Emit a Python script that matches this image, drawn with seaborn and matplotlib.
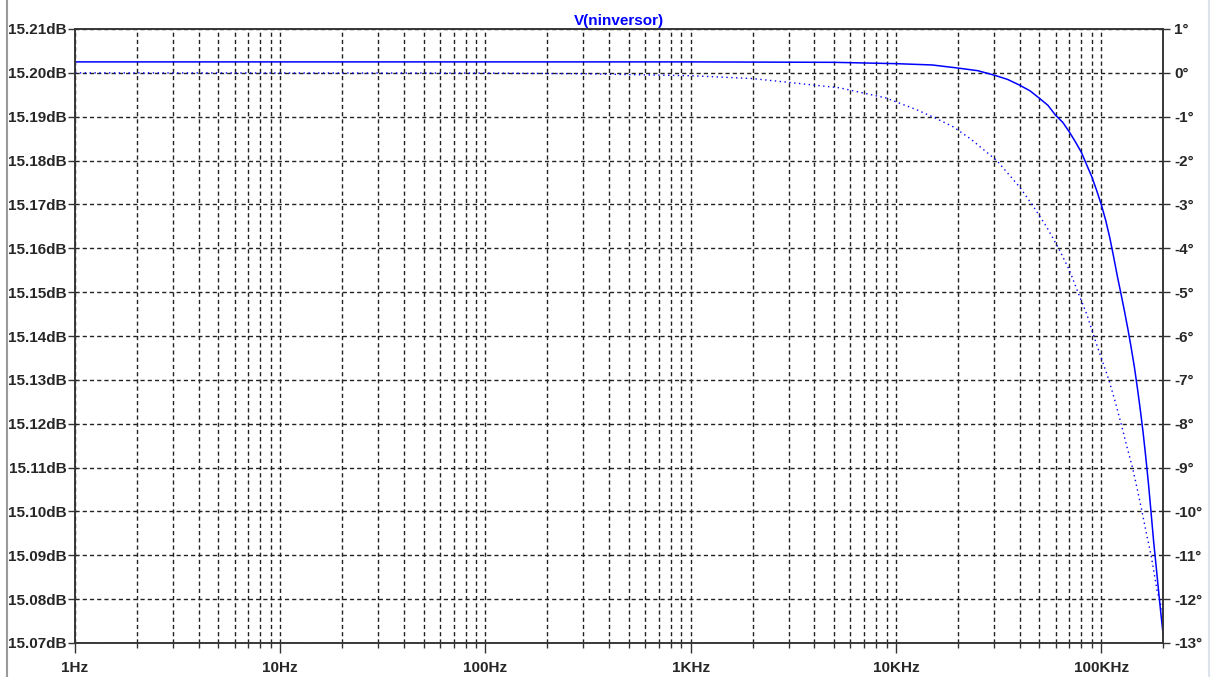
import matplotlib
matplotlib.use('Agg')
import numpy as np
import pandas as pd
import matplotlib.pyplot as plt
import seaborn as sns
from matplotlib.ticker import FixedLocator, LogLocator, NullFormatter
from matplotlib.lines import Line2D

# Магнитуда (сплошная линия), дБ
freq_mag = [1, 10, 100, 1000, 5000, 10000, 15000, 20000, 25000, 30000, 35000,
            40000, 45000, 50000, 55000, 60000, 65000, 70000, 75000, 80000, 85000,
            90000, 95000, 100000, 105000, 110000, 115000, 120000, 125000, 130000,
            135000, 140000, 145000, 150000, 155000, 160000, 165000, 170000,
            175000, 180000, 185000, 190000, 195000, 200000]
mag_db = [15.2025, 15.2025, 15.2025, 15.2025, 15.2024, 15.2021, 15.2018, 15.2011,
          15.2005, 15.1995, 15.1985, 15.1972, 15.1959, 15.1942, 15.1926, 15.1903,
          15.1887, 15.1865, 15.1842, 15.1819, 15.1790, 15.1763, 15.1732, 15.1700,
          15.1665, 15.1625, 15.1580, 15.1535, 15.1495, 15.1455, 15.1415, 15.1373,
          15.1330, 15.1282, 15.1232, 15.1180, 15.1122, 15.1062, 15.0997, 15.0932,
          15.0877, 15.0822, 15.0770, 15.0722]

# Фаза (пунктир), градусы
freq_ph = [1, 100, 300, 1000, 2000, 5300, 8900, 12600, 15700, 19000, 23000,
           31000, 40000, 46000, 54000, 62000, 70000, 77000, 85000, 92000, 100000,
           109000, 117000, 125000, 133000, 142000, 150000, 158000, 166000, 175000,
           181000, 187000, 193000, 200000]
phase_deg = [0.0, -0.005, -0.02, -0.065, -0.13, -0.34, -0.57, -0.84, -1.04, -1.23,
             -1.5, -2.0, -2.6, -3.0, -3.5, -4.0, -4.5, -5.0, -5.5, -6.0, -6.5,
             -7.0, -7.5, -8.0, -8.5, -9.0, -9.5, -10.0, -10.5, -11.0, -11.4,
             -11.8, -12.05, -12.3]

x_ticks = [1, 10, 100, 1000, 10000, 100000]
x_labels = ['1Hz', '10Hz', '100Hz', '1KHz', '10KHz', '100KHz']
db_ticks = [15.07, 15.08, 15.09, 15.10, 15.11, 15.12, 15.13, 15.14, 15.15,
            15.16, 15.17, 15.18, 15.19, 15.20, 15.21]
deg_ticks = list(range(-13, 2))

df_mag = pd.DataFrame({'f': freq_mag, 'v': mag_db})
df_ph = pd.DataFrame({'f': freq_ph, 'v': phase_deg})

sns.set_style('white')
plt.rcParams['font.family'] = ['Liberation Sans', 'DejaVu Sans']
plt.rcParams['font.weight'] = 'bold'

fig = plt.figure(figsize=(12.12, 6.77), dpi=100)
ax = fig.add_axes([75 / 1212, 1 - 643 / 677, (1163 - 75) / 1212, (643 - 29) / 677])
ax2 = ax.twinx()

blue = '#0000ff'
sns.lineplot(data=df_mag, x='f', y='v', ax=ax, color=blue, lw=1.1,
             estimator=None, sort=False)
sns.lineplot(data=df_ph, x='f', y='v', ax=ax2, color=blue, lw=1.0,
             linestyle=(0, (1, 2.5)), estimator=None, sort=False)

ax.set_xscale('log')
ax.set_xlim(1, 200000)
ax.set_ylim(15.07, 15.21)
ax2.set_ylim(-13, 1)

ax.xaxis.set_major_locator(FixedLocator(x_ticks))
ax.set_xticklabels(x_labels)
ax.xaxis.set_minor_locator(LogLocator(base=10, subs=np.arange(2, 10)))
ax.xaxis.set_minor_formatter(NullFormatter())

ax.set_yticks(db_ticks)
ax.set_yticklabels([f'{v:.2f}dB' for v in db_ticks])
ax2.set_yticks(deg_ticks)
ax2.set_yticklabels([f'{v}°' for v in deg_ticks])

for a in (ax, ax2):
    a.set_xlabel('')
    a.set_ylabel('')
    for s in a.spines.values():
        s.set_color('#333333')
        s.set_linewidth(1.1)

# сетка пунктиром
grid_kw = dict(color='#222222', linestyle=(0, (3, 2.2)), linewidth=1.0)
ax.grid(True, which='major', axis='y', **grid_kw)
ax.grid(True, which='both', axis='x', **grid_kw)
ax2.grid(False)

ax.tick_params(axis='x', which='major', direction='out', length=7, width=1,
               color='#333333', labelsize=11, pad=6, bottom=True)
ax.tick_params(axis='x', which='minor', direction='out', length=3.5, width=1,
               color='#333333', bottom=True)
ax.tick_params(axis='y', direction='out', length=5, width=1, color='#333333',
               labelsize=11, pad=1, left=True)
ax2.tick_params(axis='y', direction='out', length=5, width=1, color='#333333',
                labelsize=11, pad=3, right=True)

ax.set_title('V(ninversor)', color=blue, fontsize=11, fontweight='bold', pad=3)

# рамка окна
fig.add_artist(Line2D([7 / 1212, 7 / 1212], [0, 1], color='#999999', lw=1.5))
fig.add_artist(Line2D([1209 / 1212, 1209 / 1212], [0, 1], color='#dde3ea', lw=1.5))

fig.savefig('out.png', dpi=100)
